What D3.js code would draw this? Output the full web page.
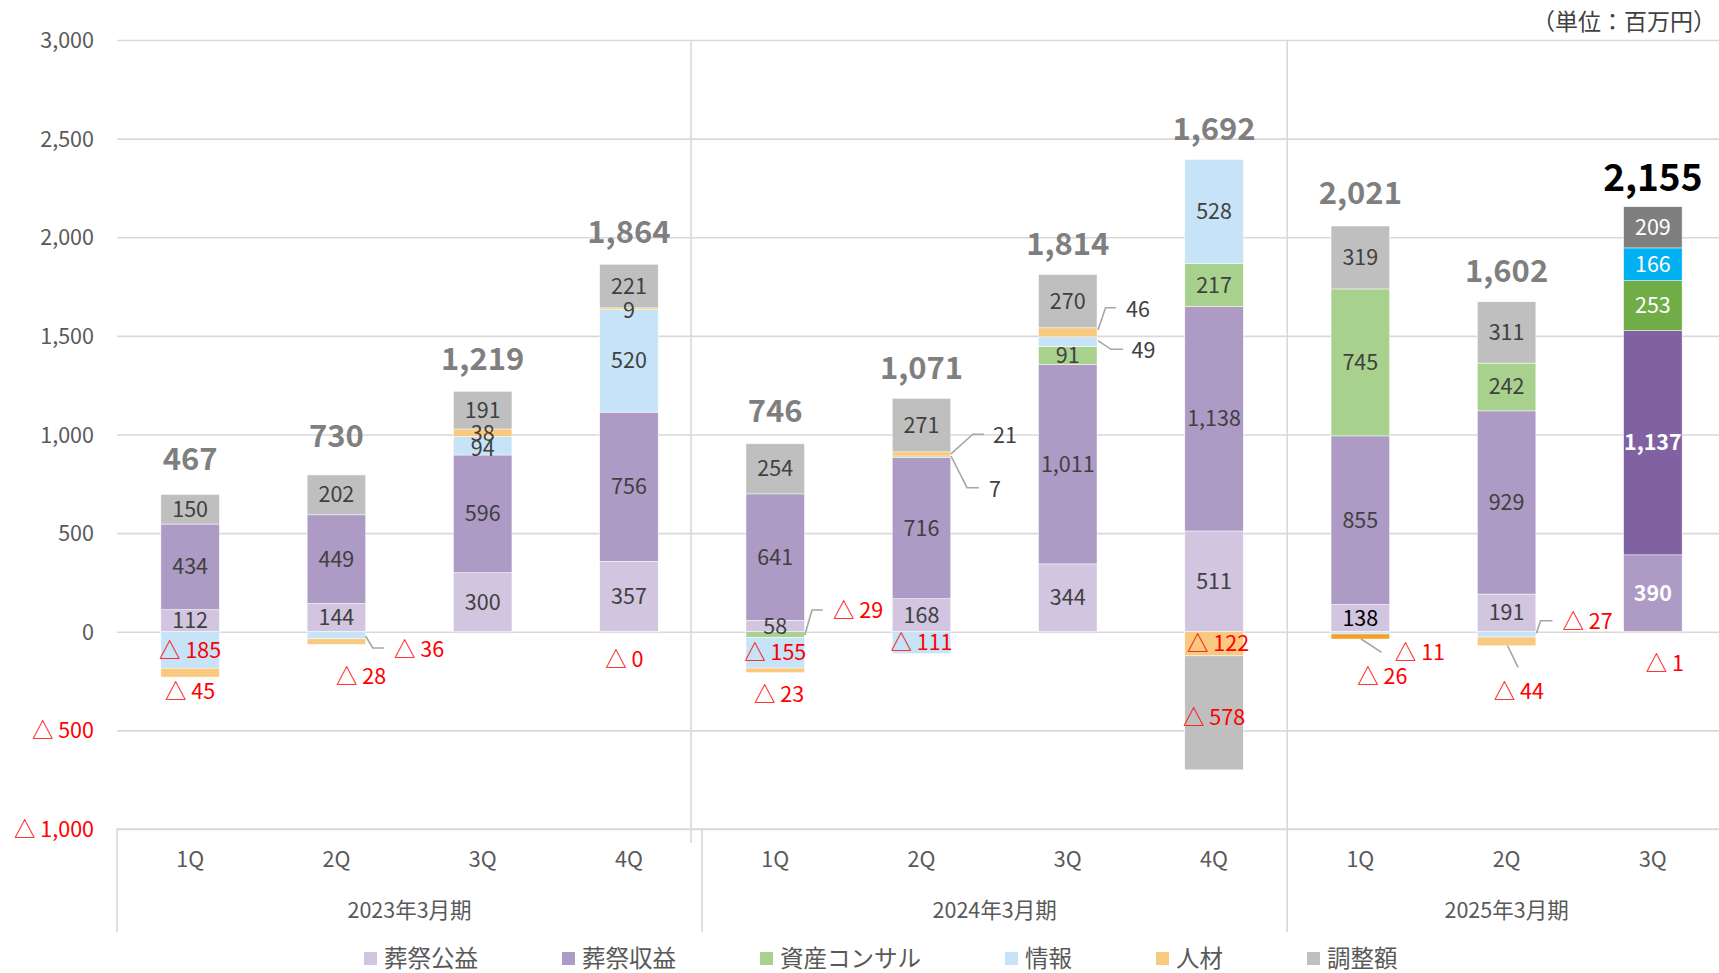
<!DOCTYPE html>
<html><head><meta charset="utf-8">
<script src="https://cdn.jsdelivr.net/npm/d3@7"></script>
<style>
html,body{margin:0;padding:0;background:#fff;}
svg{display:block;font-family:"Noto Sans CJK JP","Noto Sans",sans-serif;}
</style></head><body>
<svg id="chart" width="1719" height="973"></svg>
<script>
// ---------------- data ----------------
const categories = ["1Q","2Q","3Q","4Q","1Q","2Q","3Q","4Q","1Q","2Q","3Q"];
const fiscalYears = ["2023年3月期","2024年3月期","2025年3月期"];
const yearOfCategory = [0,0,0,0,1,1,1,1,2,2,2];
const seriesNames = ["葬祭公益","葬祭収益","資産コンサル","情報","人材","調整額"];
const sosaiKoeki   = [112,144,300,357,58,168,344,511,138,191,390];
const sosaiShueki  = [434,449,596,756,641,716,1011,1138,855,929,1137];
const shisanConsul = [0,0,0,-0.4,-29,7,91,217,745,242,253];
const joho         = [-185,-36,94,520,-155,-111,49,528,-11,-27,166];
const jinzai       = [-45,-28,38,9,-23,21,46,-122,-26,-44,-1];
const chosei       = [150,202,191,221,254,271,270,-578,319,311,209];
const totals       = [467,730,1219,1864,746,1071,1814,1692,2021,1602,2155];
const yTicks       = [-1000,-500,0,500,1000,1500,2000,2500,3000];
const unitLabel    = "（単位：百万円）";

// ---------------- styles / layout ----------------
const W = 1719, H = 973;
const plotLeft = 117, plotRight = 1726, plotTop = 40, plotBottom = 829;
const seriesColors = ["#d1c5df","#ad9bc6","#a9d18e","#c6e3f7","#f8c97e","#bfbfbf"];
const highlightCat = 10;
const highlightColors = ["#ad9bc6","#8062a2","#70ad47","#00b0f0","#f4a12c","#7f7f7f"];
const colorOverride = {"8-4":"#f4a12c"};
const totalGap = [24,28,21,21,22,19,20,20,22,20,16];
const labelPlacement = [
 {c:0,s:4,dx:0,dy:19},
 {c:1,s:3,dx:57.6,dy:13.7,anchor:"start",leader:[[29.2,0.7],[36.4,12.7],[47.6,12.7]]},
 {c:1,s:4,dx:24.6,dy:34.4},
 {c:2,s:3,dx:0,dy:2.7},
 {c:2,s:4,dx:0,dy:1},
 {c:3,s:2,dx:-4.6,dy:27.2},
 {c:3,s:4,dx:0,dy:2},
 {c:4,s:2,dx:57.8,dy:-23.9,anchor:"start",leader:[[29.6,0.4],[36.8,-24.6],[47.5,-24.6]]},
 {c:4,s:4,dx:3.8,dy:23.7},
 {c:5,s:2,dx:67.5,dy:32.6,anchor:"start",leader:[[29.5,-0.7],[45.5,31],[57.5,31]]},
 {c:5,s:4,dx:71.5,dy:-18,anchor:"start",leader:[[29.5,0],[51.3,-19.7],[62.5,-19.7]]},
 {c:6,s:3,dx:63.8,dy:9,anchor:"start",leader:[[30.2,-1],[43.2,7.6],[55.2,7.6]]},
 {c:6,s:4,dx:58.2,dy:-23,anchor:"start",leader:[[30.2,-2.3],[37.8,-24.6],[48.2,-24.6]]},
 {c:7,s:4,dx:4,dy:0},
 {c:7,s:5,dx:0,dy:5},
 {c:8,s:3,dx:34.5,dy:19.2,anchor:"start",leader:[[0.5,5.9],[21.2,19.5]]},
 {c:8,s:4,dx:22,dy:40.2},
 {c:9,s:3,dx:55.9,dy:-13.4,anchor:"start",leader:[[29.9,-1.1],[33.9,-13.7],[45.9,-13.7]]},
 {c:9,s:4,dx:12.2,dy:50.3,leader:[[0.9,4.3],[11.5,25.9]]},
 {c:10,s:4,dx:11.9,dy:31.5},
];
const placeMap = new Map(labelPlacement.map(p => [p.c+"-"+p.s, p]));

const seriesValues = [sosaiKoeki, sosaiShueki, shisanConsul, joho, jinzai, chosei];
const keys = seriesNames;
const table = categories.map((c,i) => {
  const row = {i};
  keys.forEach((k,j) => row[k] = seriesValues[j][i]);
  return row;
});

const svg = d3.select("#chart");
const x = d3.scaleBand().domain(d3.range(categories.length)).range([plotLeft, plotRight]).padding(0);
const y = d3.scaleLinear().domain([-1000,3000]).range([plotBottom, plotTop]);
const barW = x.bandwidth()*0.4;
const cx = i => x(i) + x.bandwidth()/2;

const fmtNum = v => {
  const a = Math.round(Math.abs(v));
  const s = d3.format(",")(a);
  return v < 0 ? "△ " + s : s;
};

// gridlines
const grid = svg.append("g").attr("transform",`translate(${plotLeft},0)`)
  .call(d3.axisLeft(y).tickValues(yTicks).tickSize(-(W-plotLeft)).tickFormat(""));
grid.select(".domain").remove();
grid.selectAll("line").attr("stroke","#d9d9d9").attr("stroke-width",1.6);

// y labels
const yAx = svg.append("g").attr("transform",`translate(${plotLeft},0)`)
  .call(d3.axisLeft(y).tickValues(yTicks).tickSize(0).tickPadding(23).tickFormat(fmtNum));
yAx.select(".domain").remove();
yAx.selectAll("text").attr("font-size",21.5).attr("font-family",'"Noto Sans CJK JP",sans-serif')
  .attr("fill",d => d<0 ? "#ff0000" : "#595959").attr("dy","0.35em");

// separators
const vline = (xx,y1,y2) => svg.append("line").attr("x1",xx).attr("x2",xx).attr("y1",y1).attr("y2",y2)
  .attr("stroke","#d9d9d9").attr("stroke-width",1.6);
vline(x(4)-11, plotTop, plotBottom+14);
vline(x(4), plotBottom, 932);
vline(x(8), plotTop, 932);
vline(plotLeft, plotBottom, 932);

// stacked bars
const stack = d3.stack().keys(keys).offset(d3.stackOffsetDiverging);
const stacked = stack(table);
const barsG = svg.append("g");
stacked.forEach((layer, s) => {
  layer.forEach((d, i) => {
    const v = seriesValues[s][i];
    if (v === 0) return;
    const y0 = y(d[0]), y1 = y(d[1]);
    let col = i === highlightCat ? highlightColors[s] : seriesColors[s];
    if (colorOverride[i+"-"+s]) col = colorOverride[i+"-"+s];
    barsG.append("rect")
      .attr("x", cx(i)-barW/2).attr("width", barW)
      .attr("y", Math.min(y0,y1)).attr("height", Math.abs(y1-y0))
      .attr("fill", col)
      .attr("stroke", "#ffffff").attr("stroke-width", 0.6).attr("stroke-opacity", 0.8);
  });
});

// segment labels
const labelsG = svg.append("g");
stacked.forEach((layer, s) => {
  layer.forEach((d, i) => {
    const v = seriesValues[s][i];
    if (v === 0) return;
    const mid = (y(d[0]) + y(d[1]))/2;
    const bx = cx(i);
    const p = placeMap.get(i+"-"+s) || {dx:0,dy:0};
    if (p.leader) {
      labelsG.append("polyline")
        .attr("points", p.leader.map(q => [bx+q[0], mid+q[1]].join(",")).join(" "))
        .attr("fill","none").attr("stroke","#a6a6a6").attr("stroke-width",1.6);
    }
    let fill = v < 0 ? "#ff0000" : "#404040";
    let weight = "normal";
    if (i === highlightCat && v > 0) { fill = "#ffffff"; if (s <= 1) weight = "bold"; }
    if (i === 8 && s === 0) fill = "#000000";
    labelsG.append("text")
      .attr("x", bx + p.dx).attr("y", mid + p.dy).attr("dy","0.35em")
      .attr("text-anchor", p.anchor || "middle")
      .attr("font-size", 21.5).attr("font-weight", weight).attr("fill", fill)
      .text(fmtNum(v));
  });
});

// totals
const posTop = table.map((r,i) => d3.sum(seriesValues, sv => Math.max(0, sv[i])));
totals.forEach((t,i) => {
  const last = i === totals.length-1;
  svg.append("text")
    .attr("x", cx(i)).attr("y", y(posTop[i]) - totalGap[i])
    .attr("text-anchor","middle")
    .attr("font-size", last ? 37 : 31).attr("font-weight","bold")
    .attr("fill", last ? "#000000" : "#7f7f7f")
    .text(d3.format(",")(t));
});

// x axis quarter labels
const xAx = svg.append("g").attr("transform",`translate(0,${plotBottom})`)
  .call(d3.axisBottom(x).tickSize(0).tickPadding(23).tickFormat(i => categories[i]));
xAx.select(".domain").attr("stroke","#d9d9d9").attr("stroke-width",1.6).attr("d",`M${plotLeft},0H${W}`);
xAx.selectAll("text").attr("font-size",21.5).attr("fill","#595959")
  .attr("font-family",'"Noto Sans CJK JP",sans-serif');

// fiscal year labels
fiscalYears.forEach((fy, g) => {
  const idx = d3.range(categories.length).filter(i => yearOfCategory[i] === g);
  const x0 = x(idx[0]), x1 = x(idx[idx.length-1]) + x.bandwidth();
  svg.append("text").attr("x",(x0+x1)/2).attr("y",910).attr("dy","0.35em")
    .attr("text-anchor","middle").attr("font-size",21.5).attr("fill","#595959").text(fy);
});

// unit label
svg.append("text").attr("x",1716).attr("y",22).attr("dy","0.35em").attr("text-anchor","end")
  .attr("font-size",23).attr("fill","#404040").text(unitLabel);

// legend
const leg = svg.append("g");
let lx = 364;
const ly = 958.5;
seriesNames.forEach((n,s) => {
  leg.append("rect").attr("x",lx).attr("y",ly-6.5).attr("width",13).attr("height",13).attr("fill",seriesColors[s]);
  const t = leg.append("text").attr("x",lx+20).attr("y",ly).attr("dy","0.35em")
    .attr("font-size",23.5).attr("fill","#595959").text(n);
  const w = t.node().getComputedTextLength();
  lx = lx + 20 + w + 84;
});
</script>
</body></html>
